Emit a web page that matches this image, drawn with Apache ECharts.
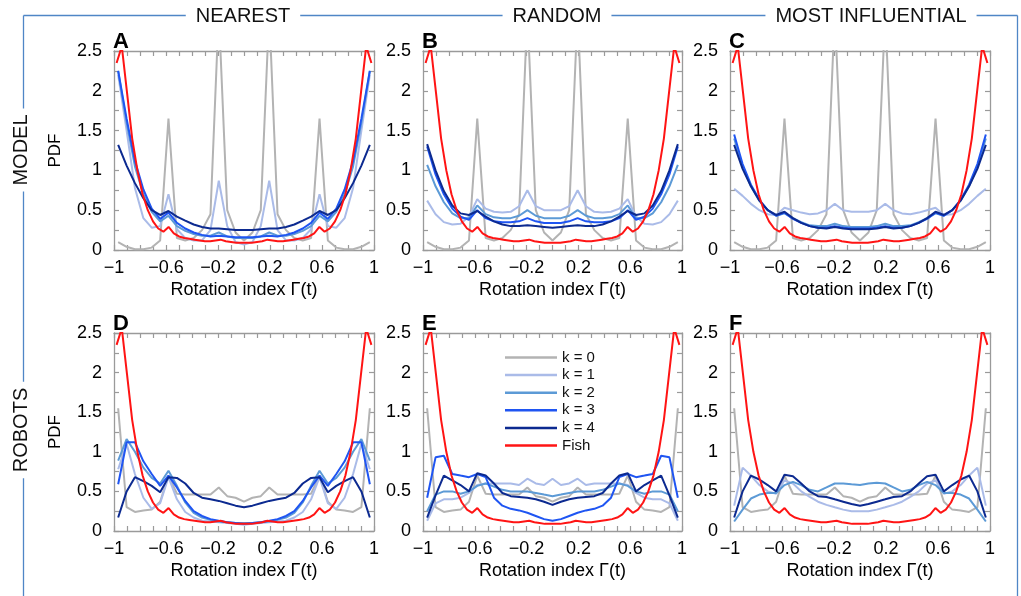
<!DOCTYPE html>
<html><head><meta charset="utf-8">
<script src="https://cdn.jsdelivr.net/npm/echarts@6/dist/echarts.min.js"></script>
<style>html,body{margin:0;padding:0;background:#fff}#c{width:1021px;height:596px}</style>
</head><body><div id="c"></div>
<script>
// ---- data ----
const x31 = [-0.968, -0.903, -0.839, -0.774, -0.71, -0.645, -0.581, -0.516, -0.452, -0.387, -0.323, -0.258, -0.194, -0.129, -0.065, 0, 0.065, 0.129, 0.194, 0.258, 0.323, 0.387, 0.452, 0.516, 0.581, 0.645, 0.71, 0.774, 0.839, 0.903, 0.968];
const x50 = [-0.98,-0.94,-0.9,-0.86,-0.82,-0.78,-0.74,-0.7,-0.66,-0.62,-0.58,-0.54,-0.5,-0.46,-0.42,-0.38,-0.34,-0.3,-0.26,-0.22,-0.18,-0.14,-0.1,-0.06,-0.02,0.02,0.06,0.1,0.14,0.18,0.22,0.26,0.3,0.34,0.38,0.42,0.46,0.5,0.54,0.58,0.62,0.66,0.7,0.74,0.78,0.82,0.86,0.9,0.94,0.98];
const fish = [2.35, 2.56, 1.98, 1.4, 1.0, 0.7, 0.5, 0.36, 0.27, 0.23, 0.29, 0.21, 0.17, 0.15, 0.14, 0.13, 0.12, 0.11, 0.11, 0.12, 0.13, 0.11, 0.1, 0.09, 0.09, 0.09, 0.09, 0.1, 0.11, 0.13, 0.12, 0.11, 0.11, 0.12, 0.13, 0.14, 0.15, 0.17, 0.21, 0.29, 0.23, 0.27, 0.36, 0.5, 0.7, 1.0, 1.4, 1.98, 2.56, 2.35];

const k0Model = [0.1, 0.04, 0.01, 0.01, 0.03, 0.12, 1.65, 0.15, 0.12, 0.15, 0.25, 0.45, 3.0, 0.5, 0.22, 0.12, 0.22, 0.5, 3.0, 0.45, 0.25, 0.15, 0.12, 0.15, 1.65, 0.12, 0.03, 0.01, 0.01, 0.04, 0.1];
const k0Robot = [1.55, 0.3, 0.24, 0.26, 0.27, 0.37, 0.7, 0.47, 0.46, 0.46, 0.46, 0.46, 0.55, 0.44, 0.42, 0.37, 0.42, 0.44, 0.55, 0.46, 0.46, 0.46, 0.46, 0.47, 0.7, 0.37, 0.27, 0.26, 0.24, 0.3, 1.55];

const aK1 = [2.2, 1.5, 0.78, 0.4, 0.28, 0.3, 0.7, 0.26, 0.15, 0.12, 0.12, 0.25, 0.87, 0.3, 0.1, 0.07, 0.1, 0.3, 0.87, 0.25, 0.12, 0.12, 0.15, 0.26, 0.7, 0.3, 0.28, 0.4, 0.78, 1.5, 2.2];
const aK2 = [2.25, 1.6, 1.05, 0.7, 0.48, 0.36, 0.43, 0.3, 0.24, 0.2, 0.18, 0.18, 0.22, 0.17, 0.15, 0.15, 0.15, 0.17, 0.22, 0.18, 0.18, 0.2, 0.24, 0.3, 0.43, 0.36, 0.48, 0.7, 1.05, 1.6, 2.25];
const aK3 = [2.25, 1.65, 1.12, 0.76, 0.52, 0.39, 0.47, 0.34, 0.27, 0.22, 0.19, 0.17, 0.18, 0.17, 0.16, 0.16, 0.16, 0.17, 0.18, 0.17, 0.19, 0.22, 0.27, 0.34, 0.47, 0.39, 0.52, 0.76, 1.12, 1.65, 2.25];
const aK4 = [1.32, 1.06, 0.84, 0.65, 0.5, 0.44, 0.49, 0.42, 0.37, 0.32, 0.29, 0.27, 0.27, 0.26, 0.25, 0.25, 0.25, 0.26, 0.27, 0.27, 0.29, 0.32, 0.37, 0.42, 0.49, 0.44, 0.5, 0.65, 0.84, 1.06, 1.32];

const bK1 = [0.62, 0.45, 0.35, 0.32, 0.33, 0.42, 0.64, 0.52, 0.48, 0.47, 0.48, 0.55, 0.75, 0.55, 0.5, 0.5, 0.5, 0.55, 0.75, 0.55, 0.48, 0.47, 0.48, 0.52, 0.64, 0.42, 0.33, 0.32, 0.35, 0.45, 0.62];
const bK2 = [1.07, 0.8, 0.6, 0.46, 0.4, 0.4, 0.56, 0.45, 0.41, 0.4, 0.4, 0.43, 0.5, 0.43, 0.4, 0.4, 0.4, 0.43, 0.5, 0.43, 0.4, 0.4, 0.41, 0.45, 0.56, 0.4, 0.4, 0.46, 0.6, 0.8, 1.07];
const bK3 = [1.3, 0.95, 0.7, 0.52, 0.42, 0.38, 0.5, 0.4, 0.36, 0.35, 0.35, 0.36, 0.4, 0.36, 0.34, 0.34, 0.34, 0.36, 0.4, 0.36, 0.35, 0.35, 0.36, 0.4, 0.5, 0.38, 0.42, 0.52, 0.7, 0.95, 1.3];
const bK4 = [1.33, 1.0, 0.74, 0.56, 0.46, 0.44, 0.49, 0.42, 0.36, 0.32, 0.3, 0.3, 0.31, 0.3, 0.29, 0.28, 0.29, 0.3, 0.31, 0.3, 0.3, 0.32, 0.36, 0.42, 0.49, 0.44, 0.46, 0.56, 0.74, 1.0, 1.33];

const cK1 = [0.77, 0.68, 0.58, 0.5, 0.45, 0.44, 0.53, 0.5, 0.47, 0.45, 0.46, 0.5, 0.58, 0.5, 0.48, 0.48, 0.48, 0.5, 0.58, 0.5, 0.46, 0.45, 0.47, 0.5, 0.53, 0.44, 0.45, 0.5, 0.58, 0.68, 0.77];
const cK2 = [1.4, 1.05, 0.8, 0.62, 0.5, 0.43, 0.46, 0.4, 0.35, 0.31, 0.3, 0.3, 0.33, 0.3, 0.29, 0.29, 0.29, 0.3, 0.33, 0.3, 0.3, 0.31, 0.35, 0.4, 0.46, 0.43, 0.5, 0.62, 0.8, 1.05, 1.4];
const cK3 = [1.45, 1.08, 0.82, 0.63, 0.5, 0.43, 0.47, 0.39, 0.34, 0.3, 0.28, 0.28, 0.3, 0.28, 0.27, 0.27, 0.27, 0.28, 0.3, 0.28, 0.28, 0.3, 0.34, 0.39, 0.47, 0.43, 0.5, 0.63, 0.82, 1.08, 1.45];
const cK4 = [1.32, 1.02, 0.8, 0.62, 0.5, 0.44, 0.48, 0.4, 0.34, 0.3, 0.28, 0.27, 0.29, 0.27, 0.26, 0.26, 0.26, 0.27, 0.29, 0.27, 0.28, 0.3, 0.34, 0.4, 0.48, 0.44, 0.5, 0.62, 0.8, 1.02, 1.32];

const dK1 = [0.78, 1.1, 0.72, 0.42, 0.28, 0.35, 0.68, 0.4, 0.24, 0.17, 0.13, 0.12, 0.11, 0.1, 0.09, 0.08, 0.09, 0.1, 0.11, 0.12, 0.13, 0.17, 0.24, 0.4, 0.68, 0.35, 0.28, 0.42, 0.72, 1.1, 0.78];
const dK2 = [0.89, 1.16, 1.0, 0.8, 0.67, 0.6, 0.76, 0.57, 0.36, 0.23, 0.17, 0.14, 0.12, 0.11, 0.1, 0.1, 0.1, 0.11, 0.12, 0.14, 0.17, 0.23, 0.36, 0.57, 0.76, 0.6, 0.67, 0.8, 1.0, 1.16, 0.89];
const dK3 = [0.59, 1.12, 1.12, 0.88, 0.72, 0.57, 0.7, 0.55, 0.38, 0.25, 0.19, 0.15, 0.13, 0.11, 0.1, 0.09, 0.1, 0.11, 0.13, 0.15, 0.19, 0.25, 0.38, 0.55, 0.7, 0.57, 0.72, 0.88, 1.12, 1.12, 0.59];
const dK4 = [0.17, 0.5, 0.68, 0.63, 0.57, 0.49, 0.68, 0.67, 0.6, 0.48, 0.42, 0.4, 0.38, 0.35, 0.32, 0.3, 0.32, 0.35, 0.38, 0.4, 0.42, 0.48, 0.6, 0.67, 0.68, 0.49, 0.57, 0.63, 0.68, 0.5, 0.17];

const eK1 = [0.13, 0.35, 0.4, 0.4, 0.42, 0.48, 0.58, 0.6, 0.6, 0.6, 0.6, 0.58, 0.66, 0.6, 0.58, 0.66, 0.58, 0.6, 0.66, 0.58, 0.6, 0.6, 0.6, 0.6, 0.58, 0.48, 0.42, 0.4, 0.4, 0.35, 0.13];
const eK2 = [0.25, 0.46, 0.5, 0.5, 0.47, 0.5, 0.57, 0.6, 0.56, 0.52, 0.5, 0.5, 0.5, 0.48, 0.46, 0.44, 0.46, 0.48, 0.5, 0.5, 0.5, 0.52, 0.56, 0.6, 0.57, 0.5, 0.47, 0.5, 0.5, 0.46, 0.25];
const eK3 = [0.42, 0.93, 0.95, 0.72, 0.7, 0.68, 0.72, 0.68, 0.42, 0.32, 0.28, 0.26, 0.23, 0.19, 0.15, 0.13, 0.15, 0.19, 0.23, 0.26, 0.28, 0.32, 0.42, 0.68, 0.72, 0.68, 0.7, 0.72, 0.95, 0.93, 0.42];
const eK4 = [0.17, 0.45, 0.7, 0.64, 0.58, 0.5, 0.73, 0.7, 0.6, 0.48, 0.44, 0.43, 0.42, 0.4, 0.37, 0.33, 0.37, 0.4, 0.42, 0.43, 0.44, 0.48, 0.6, 0.7, 0.73, 0.5, 0.58, 0.64, 0.7, 0.45, 0.17];

const fK1 = [0.32, 0.8, 0.7, 0.58, 0.5, 0.47, 0.64, 0.6, 0.5, 0.43, 0.37, 0.33, 0.3, 0.27, 0.25, 0.25, 0.25, 0.27, 0.3, 0.33, 0.37, 0.43, 0.5, 0.6, 0.64, 0.47, 0.5, 0.58, 0.7, 0.8, 0.32];
const fK2 = [0.12, 0.27, 0.41, 0.46, 0.48, 0.48, 0.58, 0.62, 0.58, 0.52, 0.5, 0.55, 0.6, 0.6, 0.59, 0.58, 0.6, 0.61, 0.6, 0.55, 0.5, 0.52, 0.58, 0.62, 0.58, 0.48, 0.48, 0.46, 0.41, 0.27, 0.12];
const fK4 = [0.17, 0.5, 0.7, 0.65, 0.58, 0.5, 0.71, 0.69, 0.6, 0.5, 0.44, 0.43, 0.4, 0.37, 0.34, 0.32, 0.34, 0.37, 0.4, 0.43, 0.44, 0.5, 0.6, 0.69, 0.71, 0.5, 0.58, 0.65, 0.7, 0.5, 0.17];

const seriesNames = ['k = 0', 'k = 1', 'k = 2', 'k = 3', 'k = 4', 'Fish'];
const xTickValues = [-10, -6, -2, 2, 6, 10];
const xTickLabels = ['\u22121', '\u22120.6', '\u22120.2', '0.2', '0.6', '1'];
const columnTitles = ['NEAREST', 'RANDOM', 'MOST INFLUENTIAL'];
const rowTitles = ['MODEL', 'ROBOTS'];

// ---- layout / style ----
const FONT = '"Liberation Sans", Arial, Helvetica, sans-serif';
const colors = ['#b3b3b3', '#aabbe8', '#5c9ad6', '#1f55f2', '#0c2a90', '#ff1414'];
const frameColor = '#4f86c6';
const axisGray = '#9a9a9a';
const panels = [
  {letter: 'A', left: 114, top: 51, width: 260, height: 199, data: [k0Model, aK1, aK2, aK3, aK4], pdf: true},
  {letter: 'B', left: 423, top: 51, width: 259, height: 199, data: [k0Model, bK1, bK2, bK3, bK4]},
  {letter: 'C', left: 730, top: 51, width: 260, height: 199, data: [k0Model, cK1, cK2, cK3, cK4]},
  {letter: 'D', left: 114, top: 333, width: 260, height: 198, data: [k0Robot, dK1, dK2, dK3, dK4], pdf: true},
  {letter: 'E', left: 423, top: 333, width: 259, height: 198, data: [k0Robot, eK1, eK2, eK3, eK4]},
  {letter: 'F', left: 730, top: 333, width: 260, height: 198, data: [k0Robot, fK1, fK2, null, fK4]}
];

function fmtX(v) {
  const r = Math.round(v * 10);
  const i = xTickValues.indexOf(r);
  return i >= 0 ? xTickLabels[i] : '';
}

const grids = [], xAxes = [], yAxes = [], series = [], graphics = [];
panels.forEach((p, n) => {
  grids.push({left: p.left, top: p.top, width: p.width, height: p.height});
  const axisLine = {show: true, onZero: false, lineStyle: {color: axisGray, width: 1.3}};
  const tick = {show: true, inside: true, length: 5, lineStyle: {color: axisGray, width: 1.2}};
  const minorX = {show: true, splitNumber: 2, length: 5, lineStyle: {color: axisGray, width: 1.2}};
  const minorY = {show: true, splitNumber: 2, length: 5, lineStyle: {color: axisGray, width: 1.2}};
  xAxes.push({
    gridIndex: n, type: 'value', min: -1, max: 1, interval: 0.2, position: 'bottom',
    axisLine, axisTick: tick, minorTick: minorX, splitLine: {show: false}, minorSplitLine: {show: false},
    axisLabel: {formatter: fmtX, fontSize: 18, color: '#000', margin: 9, fontFamily: FONT},
    name: 'Rotation index \u0393(t)', nameLocation: 'middle', nameGap: 31,
    nameTextStyle: {fontSize: 18, color: '#000', fontFamily: FONT}
  });
  xAxes.push({
    gridIndex: n, type: 'value', min: -1, max: 1, interval: 0.2, position: 'top',
    axisLine, axisTick: tick, minorTick: minorX, splitLine: {show: false}, axisLabel: {show: false}
  });
  const yMain = {
    gridIndex: n, type: 'value', min: 0, max: 2.5, interval: 0.5, position: 'left',
    axisLine, axisTick: tick, minorTick: minorY, splitLine: {show: false},
    axisLabel: {fontSize: 18, color: '#000', margin: 12, fontFamily: FONT}
  };
  if (p.pdf) {
    Object.assign(yMain, {name: 'PDF', nameLocation: 'middle', nameGap: 50, nameRotate: 90,
      nameTextStyle: {fontSize: 17, color: '#000', fontFamily: FONT}});
  }
  yAxes.push(yMain);
  yAxes.push({
    gridIndex: n, type: 'value', min: 0, max: 2.5, interval: 0.5, position: 'right',
    axisLine, axisTick: tick, minorTick: minorY, splitLine: {show: false}, axisLabel: {show: false}
  });
  p.data.forEach((vals, k) => {
    if (!vals) return;
    series.push({
      type: 'line', name: seriesNames[k], xAxisIndex: 2 * n, yAxisIndex: 2 * n,
      data: x31.map((x, i) => [x, vals[i]]),
      showSymbol: false, symbol: 'none', clip: true, silent: true, z: 2 + k,
      color: colors[k], lineStyle: {width: 2, color: colors[k]}
    });
  });
  series.push({
    type: 'line', name: seriesNames[5], xAxisIndex: 2 * n, yAxisIndex: 2 * n,
    data: x50.map((x, i) => [x, fish[i]]),
    showSymbol: false, symbol: 'none', clip: true, silent: true, z: 8,
    color: colors[5], lineStyle: {width: 2, color: colors[5]}
  });
  graphics.push({
    type: 'text', z: 20, x: p.left - 1, y: p.top + 2,
    style: {text: p.letter, fontSize: 22, fontWeight: 'bold', fontFamily: FONT, fill: '#000',
      align: 'left', verticalAlign: 'bottom'}
  });
});

// frame lines
graphics.push({type: 'line', z: 10, shape: {x1: 23.5, y1: 15.5, x2: 1017.5, y2: 15.5}, style: {stroke: frameColor, lineWidth: 1.3}});
graphics.push({type: 'line', z: 10, shape: {x1: 23.5, y1: 15.5, x2: 23.5, y2: 600}, style: {stroke: frameColor, lineWidth: 1.3}});
graphics.push({type: 'line', z: 10, shape: {x1: 1017.5, y1: 15.5, x2: 1017.5, y2: 600}, style: {stroke: frameColor, lineWidth: 1.3}});
const colCenters = [243, 557, 871];
columnTitles.forEach((t, i) => {
  graphics.push({type: 'text', z: 11, x: colCenters[i], y: 16,
    style: {text: t, fontSize: 20, fontFamily: FONT, fill: '#111', align: 'center', verticalAlign: 'middle',
      backgroundColor: '#fff', padding: [2, 10]}});
});
const rowCenters = [150, 430];
rowTitles.forEach((t, i) => {
  graphics.push({type: 'text', z: 11, x: 21, y: rowCenters[i], rotation: Math.PI / 2,
    style: {text: t, fontSize: 20, fontFamily: FONT, fill: '#111', align: 'center', verticalAlign: 'middle',
      backgroundColor: '#fff', padding: [2, 6]}});
});

const chart = echarts.init(document.getElementById('c'), null, {renderer: 'canvas'});
chart.setOption({
  animation: false,
  backgroundColor: '#fff',
  grid: grids, xAxis: xAxes, yAxis: yAxes, series,
  legend: {
    left: 500, top: 345, orient: 'vertical', icon: 'rect', itemWidth: 52, itemHeight: 2.5,
    itemGap: 2.6, itemTextGap: 6, selectedMode: false, data: seriesNames,
    textStyle: {fontSize: 15, color: '#111', fontFamily: FONT}
  },
  graphic: graphics
});
</script></body></html>
